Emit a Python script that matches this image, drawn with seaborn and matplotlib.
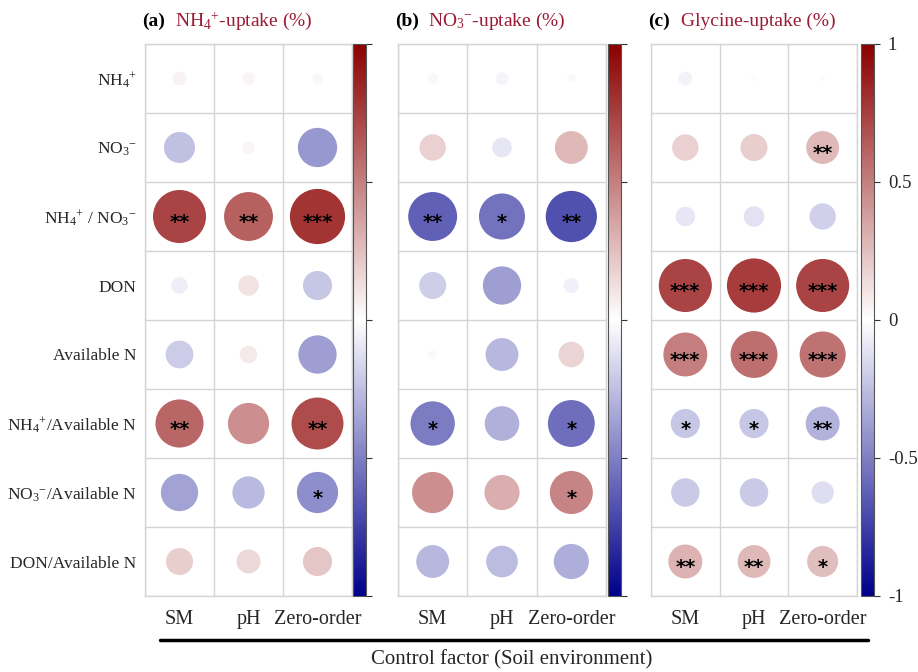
import numpy as np
import pandas as pd
import matplotlib
matplotlib.use("Agg")
import matplotlib.pyplot as plt
import seaborn as sns
from matplotlib.colors import LinearSegmentedColormap, Normalize
from matplotlib.cm import ScalarMappable
from matplotlib.lines import Line2D

# ---------------- data ----------------
factors = ["SM", "pH", "Zero-order"]
variables = [r"NH$_{4}{}^{+}$", r"NO$_{3}{}^{-}$", r"NH$_{4}{}^{+}$ / NO$_{3}{}^{-}$", "DON",
             "Available N", r"NH$_{4}{}^{+}$/Available N", r"NO$_{3}{}^{-}$/Available N",
             "DON/Available N"]

# correlation coefficients (rows = variables, cols = SM, pH, Zero-order)
r_nh4 = [[0.05, 0.04, -0.03],
         [-0.25, 0.04, -0.40],
         [0.73, 0.62, 0.79],
         [-0.07, 0.11, -0.22],
         [-0.20, 0.08, -0.38],
         [0.60, 0.44, 0.70],
         [-0.36, -0.27, -0.44],
         [0.19, 0.15, 0.22]]
sig_nh4 = [["", "", ""], ["", "", ""], ["**", "**", "***"], ["", "", ""],
           ["", "", ""], ["**", "", "**"], ["", "", "*"], ["", "", ""]]

r_no3 = [[-0.03, -0.04, -0.02],
         [0.18, -0.10, 0.28],
         [-0.62, -0.55, -0.68],
         [-0.19, -0.38, -0.06],
         [-0.02, -0.28, 0.17],
         [-0.51, -0.31, -0.57],
         [0.44, 0.32, 0.48],
         [-0.28, -0.26, -0.32]]
sig_no3 = [["", "", ""], ["", "", ""], ["**", "*", "**"], ["", "", ""],
           ["", "", ""], ["*", "", "*"], ["", "", "*"], ["", "", ""]]

r_gly = [[-0.05, -0.01, -0.01],
         [0.18, 0.19, 0.28],
         [-0.10, -0.11, -0.18],
         [0.73, 0.76, 0.73],
         [0.50, 0.57, 0.55],
         [-0.22, -0.22, -0.30],
         [-0.21, -0.21, -0.13],
         [0.30, 0.28, 0.25]]
sig_gly = [["", "", ""], ["", "", "**"], ["", "", ""], ["***", "***", "***"],
           ["***", "***", "***"], ["*", "*", "**"], ["", "", ""], ["**", "**", "*"]]

panel_tags = ["(a)", "(b)", "(c)"]
panel_titles = [r"NH$_{4}{}^{+}$-uptake (%)", r"NO$_{3}{}^{-}$-uptake (%)", "Glycine-uptake (%)"]
cbar_ticks = [-1, -0.5, 0, 0.5, 1]
cbar_ticklabels = ["-1", "-0.5", "0", "0.5", "1"]
xlabel = "Control factor (Soil environment)"

# ---------------- style ----------------
sns.set_style("white")
plt.rcParams["font.family"] = ["Liberation Serif", "DejaVu Serif"]
plt.rcParams["mathtext.fontset"] = "custom"
plt.rcParams["mathtext.rm"] = "Liberation Serif"
plt.rcParams["mathtext.it"] = "Liberation Serif:italic"
plt.rcParams["mathtext.bf"] = "Liberation Serif:bold"
plt.rcParams["mathtext.default"] = "rm"

cmap = LinearSegmentedColormap.from_list("bwr_dark", ["#00008B", "#FFFFFF", "#8B0000"])
norm = Normalize(-1, 1)
title_color = "#9B1B35"

W, H = 918, 672
fig = plt.figure(figsize=(W / 100, H / 100), dpi=100)

def fx(px):
    return px / W

def fy(py):
    return 1 - py / H

grid_top, grid_bot = 44, 596
grid_x = [(145, 352), (398, 606), (651, 857)]
cbar_x = [(353, 366), (608, 621), (861, 874)]
S_MAX = (0.9 * 69 * 0.72) ** 2

panels = [(r_nh4, sig_nh4), (r_no3, sig_no3), (r_gly, sig_gly)]

for k, (rvals, sigs) in enumerate(panels):
    x0, x1 = grid_x[k]
    ax = fig.add_axes([fx(x0), fy(grid_bot), fx(x1 - x0), (grid_bot - grid_top) / H])
    rows = []
    for i, v in enumerate(variables):
        for j, f in enumerate(factors):
            rows.append({"factor": f, "var": v, "r": rvals[i][j], "absr": abs(rvals[i][j])})
    df = pd.DataFrame(rows)
    sns.scatterplot(data=df, x="factor", y="var", hue="r", size="absr",
                    palette=cmap, hue_norm=(-1, 1), sizes=(0, S_MAX), size_norm=(0, 1),
                    linewidth=0, legend=False, ax=ax, zorder=3)
    for i in range(len(variables)):
        for j in range(len(factors)):
            s = sigs[i][j]
            if s:
                ax.text(j, i + 0.09, s, ha="center", va="center", fontsize=14,
                        family="DejaVu Sans", fontweight="bold", color="black", zorder=4)
    ax.set_xlim(-0.5, len(factors) - 0.5)
    ax.set_ylim(len(variables) - 0.5, -0.5)
    ax.set_xticks(np.arange(-0.5, len(factors), 1), minor=True)
    ax.set_yticks(np.arange(-0.5, len(variables), 1), minor=True)
    ax.grid(which="minor", color="#d4d4d4", linewidth=1.0, zorder=0)
    ax.grid(which="major", visible=False)
    ax.tick_params(which="both", length=0)
    ax.set_xlabel("")
    ax.set_ylabel("")
    ax.set_xticks(range(len(factors)))
    ax.set_xticklabels(factors, fontsize=14.5)
    ax.tick_params(axis="x", pad=10)
    if k == 0:
        ax.set_yticks(range(len(variables)))
        ax.set_yticklabels(variables, fontsize=12.5)
        ax.tick_params(axis="y", pad=6)
    else:
        ax.set_yticks([])
    for sp in ax.spines.values():
        sp.set_color("#d4d4d4")
        sp.set_linewidth(1.0)

    c0, c1 = cbar_x[k]
    cax = fig.add_axes([fx(c0), fy(grid_bot), fx(c1 - c0), (grid_bot - grid_top) / H])
    cb = fig.colorbar(ScalarMappable(norm=norm, cmap=cmap), cax=cax, ticks=cbar_ticks)
    cb.outline.set_edgecolor("#555555")
    cb.outline.set_linewidth(0.8)
    cax.tick_params(length=4, width=0.8, color="#333333", direction="out")
    if k == 2:
        cb.set_ticklabels(cbar_ticklabels)
        cax.tick_params(labelsize=13.5, pad=6)
    else:
        cb.set_ticklabels([""] * len(cbar_ticks))

    # panel titles
    fig.text(fx(x0 - 3), fy(21), panel_tags[k], fontsize=14, fontweight="bold",
             color="black", ha="left", va="center")
    fig.text(fx(x0 + 30), fy(21), panel_titles[k], fontsize=14,
             color=title_color, ha="left", va="center")

fig.add_artist(Line2D([fx(160), fx(868)], [fy(640), fy(640)], color="black", linewidth=2.5))
fig.text(fx(512), fy(660), xlabel, fontsize=15, ha="center", va="center")

fig.savefig("out.png", dpi=100, facecolor="white")
